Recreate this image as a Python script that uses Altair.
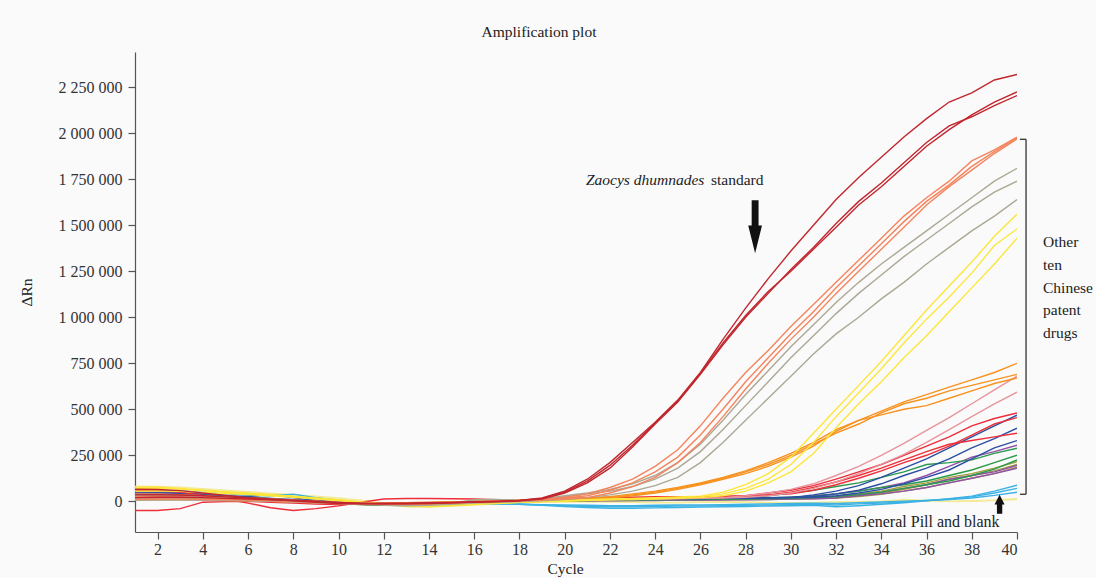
import altair as alt
import pandas as pd

cycles = list(range(1, 41))

# ΔRn readings, in thousands, cycles 1..40
std_a = [65, 64, 58, 45, 32, 20, 10, 2, -6, -12, -14, -12, -10, -8, -6, -4, -2, 4, 18, 55,
         120, 210, 320, 430, 550, 700, 880, 1050, 1210, 1360, 1500, 1640, 1760, 1870, 1980, 2080, 2170, 2220, 2290, 2320]
std_b = [35, 36, 34, 30, 24, 18, 12, 6, 0, -6, -10, -12, -12, -10, -8, -4, 0, 4, 15, 50,
         110, 195, 305, 425, 545, 695, 860, 1010, 1140, 1250, 1370, 1490, 1610, 1710, 1820, 1930, 2020, 2100, 2170, 2225]
std_c = [20, 22, 22, 20, 16, 12, 8, 4, -2, -8, -12, -14, -14, -12, -8, -4, -2, 2, 12, 45,
         100, 180, 295, 420, 540, 690, 850, 1000, 1130, 1260, 1380, 1510, 1630, 1730, 1840, 1950, 2040, 2090, 2150, 2205]

sal_a = [40, 40, 36, 30, 24, 18, 12, 6, 0, -6, -10, -12, -12, -10, -8, -4, 0, 4, 10, 22,
         40, 75, 120, 190, 280, 410, 560, 700, 820, 950, 1070, 1190, 1310, 1430, 1550, 1650, 1740, 1850, 1910, 1980]
sal_b = [25, 26, 24, 20, 16, 12, 8, 4, -2, -8, -12, -14, -14, -12, -8, -4, 0, 2, 8, 18,
         30, 60, 100, 160, 240, 360, 500, 650, 780, 910, 1030, 1160, 1280, 1400, 1520, 1630, 1720, 1820, 1900, 1975]
sal_c = [10, 12, 12, 10, 8, 6, 2, -2, -6, -10, -14, -16, -16, -14, -10, -6, -2, 2, 6, 12,
         20, 45, 80, 130, 210, 320, 460, 610, 750, 880, 1000, 1130, 1250, 1370, 1490, 1610, 1710, 1800, 1890, 1970]

gray_a = [30, 30, 28, 24, 20, 14, 8, 2, -4, -10, -14, -16, -16, -14, -10, -6, -2, 2, 14, 30,
          45, 65, 95, 140, 210, 310, 440, 580, 710, 840, 960, 1080, 1190, 1290, 1380, 1470, 1560, 1650, 1740, 1810]
gray_b = [15, 15, 14, 12, 10, 6, 2, -2, -6, -10, -14, -18, -20, -18, -12, 8, 10, 6, 10, 25,
          40, 55, 80, 120, 180, 270, 390, 520, 650, 780, 900, 1020, 1130, 1230, 1330, 1420, 1510, 1600, 1680, 1740]
gray_c = [5, 6, 6, 5, 4, 2, 0, -4, -8, -12, -16, -20, -24, -22, -16, -10, -6, -2, 2, 10,
          20, 35, 55, 85, 130, 210, 320, 440, 560, 680, 800, 910, 1000, 1100, 1190, 1290, 1380, 1470, 1550, 1640]

yel_a = [78, 76, 70, 60, 52, 44, 36, 28, 18, 8, -4, -14, -20, -20, -16, -12, -8, -4, 0, 4,
         8, 12, 16, 20, 24, 28, 50, 90, 150, 240, 370, 500, 630, 760, 900, 1040, 1170, 1300, 1440, 1560]
yel_b = [70, 70, 66, 58, 50, 42, 34, 26, 16, 6, -6, -16, -24, -26, -22, -16, -10, -6, -2, 2,
         6, 10, 14, 16, 20, 24, 40, 70, 120, 200, 320, 460, 590, 720, 860, 990, 1110, 1240, 1390, 1480]
yel_c = [55, 56, 54, 48, 42, 36, 30, 22, 12, 2, -8, -18, -26, -28, -24, -18, -12, -6, -2, 0,
         4, 8, 10, 12, 16, 20, 30, 55, 100, 160, 260, 400, 530, 650, 780, 900, 1030, 1160, 1290, 1430]

or_a = [20, 20, 18, 16, 12, 8, 4, 0, -4, -8, -10, -10, -8, -6, -4, 0, 4, 8, 10, 12,
        15, 25, 40, 55, 75, 100, 130, 165, 210, 260, 320, 390, 440, 490, 540, 580, 620, 660, 700, 750]
or_b = [12, 12, 12, 10, 8, 6, 2, -2, -6, -10, -12, -12, -10, -8, -4, -2, 2, 6, 8, 10,
        12, 20, 35, 50, 70, 95, 125, 160, 200, 250, 310, 370, 420, 480, 530, 560, 600, 630, 660, 690]
or_c = [8, 8, 8, 6, 4, 2, 0, -4, -8, -12, -14, -14, -12, -10, -6, -2, 2, 4, 6, 8,
        10, 18, 30, 45, 65, 90, 120, 150, 190, 240, 300, 380, 440, 470, 500, 520, 560, 600, 640, 670]

pink_a = [25, 26, 24, 20, 16, 12, 8, 4, 0, -6, -10, -12, -12, -10, -6, -2, 0, 2, 4, 6,
          8, 10, 12, 14, 16, 18, 20, 30, 45, 65, 95, 140, 190, 250, 315, 385, 455, 530, 605, 680]
pink_b = [18, 18, 18, 16, 14, 10, 6, 2, -2, -6, -10, -14, -14, -12, -8, -4, -2, 0, 2, 4,
          6, 8, 10, 12, 14, 16, 18, 22, 30, 45, 70, 105, 150, 200, 255, 320, 390, 460, 530, 593]

red_a = [60, 58, 50, 32, 12, -10, -35, -50, -40, -25, -5, 12, 15, 15, 14, 12, 8, 5, 10, 15,
         20, 22, 22, 25, 25, 25, 25, 30, 45, 60, 85, 120, 160, 200, 250, 300, 350, 410, 450, 480]
red_b = [-50, -50, -40, -5, -2, 0, -5, -10, -15, -18, -15, -10, -8, -6, -5, -3, 0, 2, 5, 8,
         10, 12, 14, 15, 15, 18, 20, 25, 35, 50, 75, 105, 140, 180, 225, 270, 310, 330, 350, 370]
red_c = [30, 30, 28, 24, 18, 12, 6, 0, -6, -12, -16, -18, -16, -14, -10, -6, -2, 0, 4, 8,
         12, 15, 18, 20, 22, 24, 26, 30, 35, 40, 60, 90, 125, 165, 210, 250, 300, 360, 420, 455]

blue_a = [45, 46, 42, 36, 28, 26, 36, 20, 4, -4, -10, -14, -16, -14, -10, -6, -2, 0, 2, 4,
          8, 20, 15, 12, 14, 16, 16, 18, 20, 20, 35, 55, 85, 130, 180, 230, 290, 350, 410, 468]
blue_b = [28, 28, 26, 22, 18, 14, 10, 6, 0, -6, -10, -14, -14, -12, -8, -4, 0, 2, 4, 6,
          8, 10, 12, 14, 16, 18, 20, 18, 20, 22, 25, 40, 60, 95, 140, 180, 230, 290, 340, 397]
blue_c = [15, 16, 16, 14, 12, 8, 4, 0, -4, -8, -12, -16, -16, -14, -10, -6, -2, 0, 2, 4,
          6, 8, 10, 12, 14, 14, 16, 16, 18, 20, 22, 30, 45, 65, 95, 130, 170, 230, 290, 330]

pur_a = [50, 50, 46, 40, 32, 24, 16, 8, 0, -8, -14, -16, -16, -14, -10, -6, -2, 0, 2, 4,
         6, 8, 10, 12, 12, 14, 14, 16, 18, 20, 30, 40, 55, 75, 100, 140, 190, 240, 270, 305]
pur_b = [35, 36, 34, 30, 24, 18, 12, 6, -2, -10, -16, -18, -18, -16, -12, -8, -4, -2, 0, 2,
         4, 6, 6, 8, 8, 10, 10, 12, 14, 16, 20, 25, 35, 50, 70, 90, 120, 140, 160, 195]
pur_c = [22, 22, 22, 20, 16, 12, 8, 2, -4, -10, -14, -16, -16, -14, -12, -8, -4, -2, 0, 0,
         2, 2, 4, 4, 6, 6, 8, 8, 10, 12, 14, 18, 30, 40, 55, 75, 100, 125, 150, 180]

grn_a = [40, 40, 38, 34, 28, 22, 14, 6, -2, -10, -16, -18, -18, -16, -12, -8, -4, 0, 2, 4,
         6, 8, 10, 12, 14, 16, 18, 20, 30, 45, 60, 80, 100, 130, 160, 200, 210, 225, 260, 288]
grn_b = [30, 30, 30, 28, 24, 18, 12, 4, -4, -12, -18, -20, -20, -18, -14, -10, -6, -2, 0, 2,
         4, 6, 8, 10, 12, 12, 14, 16, 18, 22, 28, 40, 55, 75, 90, 110, 140, 170, 210, 250]
grn_c = [22, 22, 22, 20, 18, 14, 10, 4, -2, -8, -14, -18, -18, -16, -12, -8, -4, 0, 2, 4,
         6, 6, 8, 8, 10, 10, 12, 12, 14, 16, 20, 26, 36, 50, 70, 90, 110, 140, 175, 225]

olv_a = [32, 32, 30, 26, 22, 16, 10, 4, -2, -8, -14, -18, -18, -16, -10, 2, 6, 4, 4, 6,
         8, 8, 10, 10, 12, 12, 14, 14, 16, 18, 20, 26, 40, 55, 80, 100, 130, 150, 180, 215]
olv_b = [24, 24, 24, 22, 18, 14, 8, 2, -4, -10, -16, -20, -22, -20, -14, -6, 0, 2, 2, 4,
         4, 6, 6, 8, 8, 10, 10, 12, 12, 14, 16, 20, 30, 45, 65, 90, 120, 140, 165, 200]
olv_c = [18, 18, 18, 16, 14, 10, 6, 0, -6, -12, -18, -22, -24, -22, -16, -10, -4, 0, 0, 2,
         2, 4, 4, 6, 6, 8, 8, 10, 10, 12, 14, 18, 26, 38, 55, 75, 100, 125, 150, 185]

lb_a = [60, 60, 56, 48, 40, 32, 30, 38, 20, 6, -6, -12, -14, -14, -12, -10, -12, -16, -22, -28,
        -34, -38, -38, -36, -34, -32, -30, -28, -26, -24, -22, -30, -24, -16, -8, 2, 14, 28, 55, 87]
lb_b = [40, 40, 38, 34, 28, 22, 16, 10, 4, -2, -8, -14, -16, -16, -14, -12, -14, -16, -20, -24,
        -28, -30, -30, -28, -26, -26, -24, -22, -20, -18, -16, -20, -14, -10, -4, 4, 12, 24, 45, 70]
lb_c = [25, 26, 24, 22, 18, 14, 10, 6, 0, -6, -12, -16, -18, -18, -16, -14, -14, -16, -18, -20,
        -22, -24, -24, -22, -20, -20, -18, -16, -14, -12, -10, -12, -8, -4, 0, 4, 10, 18, 32, 49]

py_a = [80, 80, 76, 68, 60, 52, 44, 36, 28, 18, 6, -10, -28, -30, -24, -18, -12, -6, -4, -2,
        0, -2, -4, -6, -6, -4, -2, -4, -6, -8, -6, -4, -2, 0, 10, 4, 0, 2, 6, 14]
py_b = [70, 70, 66, 60, 52, 44, 36, 28, 20, 10, -2, -14, -30, -32, -26, -20, -14, -8, -6, -4,
        -2, -4, -6, -8, -8, -6, -4, -6, -8, -10, -8, -6, -4, -2, 4, 2, -2, 0, 4, 10]

group_names = ["blank", "lightblue", "olive", "purple", "green", "blue", "red", "pink",
               "orange", "yellow", "gray", "salmon", "standard"]
group_colors = ["#f3ea96", "#3cb2e4", "#a3a03e", "#9250a8", "#2a9a4c", "#2c4fa3", "#ee2e3a",
                "#e8949c", "#f7921f", "#fde63a", "#aca895", "#f4845d", "#c1262e"]

series = [
    ("py_a", "blank", py_a), ("py_b", "blank", py_b),
    ("lb_a", "lightblue", lb_a), ("lb_b", "lightblue", lb_b), ("lb_c", "lightblue", lb_c),
    ("olv_a", "olive", olv_a), ("olv_b", "olive", olv_b), ("olv_c", "olive", olv_c),
    ("pur_a", "purple", pur_a), ("pur_b", "purple", pur_b), ("pur_c", "purple", pur_c),
    ("grn_a", "green", grn_a), ("grn_b", "green", grn_b), ("grn_c", "green", grn_c),
    ("blue_a", "blue", blue_a), ("blue_b", "blue", blue_b), ("blue_c", "blue", blue_c),
    ("red_a", "red", red_a), ("red_b", "red", red_b), ("red_c", "red", red_c),
    ("pink_a", "pink", pink_a), ("pink_b", "pink", pink_b),
    ("or_a", "orange", or_a), ("or_b", "orange", or_b), ("or_c", "orange", or_c),
    ("yel_a", "yellow", yel_a), ("yel_b", "yellow", yel_b), ("yel_c", "yellow", yel_c),
    ("gray_a", "gray", gray_a), ("gray_b", "gray", gray_b), ("gray_c", "gray", gray_c),
    ("sal_a", "salmon", sal_a), ("sal_b", "salmon", sal_b), ("sal_c", "salmon", sal_c),
    ("std_a", "standard", std_a), ("std_b", "standard", std_b), ("std_c", "standard", std_c),
]

rows = []
for order, (name, grp, vals) in enumerate(series):
    assert len(vals) == 40, name
    for c, v in zip(cycles, vals):
        rows.append({"cycle": c, "drn": v * 1000, "series": name, "group": grp, "o": order})
df = pd.DataFrame(rows)

FONT = "Liberation Serif"
XDOM = [1, 40]
YDOM = [-167000, 2442000]
xs = alt.Scale(domain=XDOM, nice=False, zero=False)
ys = alt.Scale(domain=YDOM, nice=False, zero=False)

lines = alt.Chart(df).mark_line(strokeWidth=1.4, clip=True).encode(
    x=alt.X("cycle:Q", scale=xs,
            axis=alt.Axis(values=list(range(2, 41, 2)), title="Cycle", titleX=430)),
    y=alt.Y("drn:Q", scale=ys,
            axis=alt.Axis(values=list(range(0, 2250001, 250000)), title="ΔRn",
                          labelExpr="replace(format(datum.value, ','), regexp(',', 'g'), ' ')")),
    color=alt.Color("group:N", scale=alt.Scale(domain=group_names, range=group_colors), legend=None),
    detail="series:N",
    order="o:Q",
)

# annotations
ann_it = pd.DataFrame({"cycle": [20.94], "drn": [1744700], "t": ["Zaocys dhumnades"]})
ann_rg = pd.DataFrame({"cycle": [26.47], "drn": [1744700], "t": ["standard"]})
ann_gp = pd.DataFrame({"cycle": [30.98], "drn": [-114100], "t": ["Green General Pill and blank"]})
ann_other = pd.DataFrame({"cycle": [41.15], "drn": [1407700],
                          "t": [["Other", "ten", "Chinese", "patent", "drugs"]]})

text_it = alt.Chart(ann_it).mark_text(align="left", baseline="middle", font=FONT, fontSize=15.5,
                                      fontStyle="italic", color="#222", clip=False).encode(
    x=alt.X("cycle:Q", scale=xs), y=alt.Y("drn:Q", scale=ys), text="t:N")
text_rg = alt.Chart(ann_rg).mark_text(align="left", baseline="middle", font=FONT, fontSize=15.5,
                                      color="#222", clip=False).encode(
    x=alt.X("cycle:Q", scale=xs), y=alt.Y("drn:Q", scale=ys), text="t:N")
text_gp = alt.Chart(ann_gp).mark_text(align="left", baseline="middle", font=FONT, fontSize=16,
                                      color="#222", clip=False).encode(
    x=alt.X("cycle:Q", scale=xs), y=alt.Y("drn:Q", scale=ys), text="t:N")
text_other = alt.Chart(ann_other).mark_text(align="left", baseline="middle", font=FONT, fontSize=15.5,
                                            lineHeight=22.7, color="#222", clip=False).encode(
    x=alt.X("cycle:Q", scale=xs), y=alt.Y("drn:Q", scale=ys), text="t")

arrow_dn = pd.DataFrame({"cycle": [28.42], "drn": [1492000]})
arrow_up = pd.DataFrame({"cycle": [39.23], "drn": [-16300]})
dn = alt.Chart(arrow_dn).mark_point(
    shape="M-0.13,-1L0.13,-1L0.13,-0.05L0.26,-0.05L0,1L-0.26,-0.05L-0.13,-0.05Z",
    size=2809, filled=True, opacity=1, color="#111", strokeWidth=0, clip=False).encode(
    x=alt.X("cycle:Q", scale=xs), y=alt.Y("drn:Q", scale=ys))
up = alt.Chart(arrow_up).mark_point(
    shape="M0,-1L0.53,0.03L0.28,0.03L0.28,1L-0.28,1L-0.28,0.03L-0.53,0.03Z",
    size=361, filled=True, opacity=1, color="#111", strokeWidth=0, clip=False).encode(
    x=alt.X("cycle:Q", scale=xs), y=alt.Y("drn:Q", scale=ys))

br_v = pd.DataFrame({"cycle": [40.40], "drn": [1967500], "drn2": [38000]})
br_h = pd.DataFrame({"cycle": [40.13, 40.13], "cycle2": [40.40, 40.40], "drn": [1967500, 38000]})
brv = alt.Chart(br_v).mark_rule(color="#333", strokeWidth=1.3, clip=False).encode(
    x=alt.X("cycle:Q", scale=xs), y=alt.Y("drn:Q", scale=ys), y2="drn2:Q")
brh = alt.Chart(br_h).mark_rule(color="#333", strokeWidth=1.3, clip=False).encode(
    x=alt.X("cycle:Q", scale=xs), x2="cycle2:Q", y=alt.Y("drn:Q", scale=ys))

chart = alt.layer(lines, brv, brh, dn, up, text_it, text_rg, text_gp, text_other).properties(
    width=882, height=480,
    title=alt.TitleParams("Amplification plot", font=FONT, fontSize=15.5, fontWeight="normal",
                          color="#222", offset=12, dx=-37),
    autosize=alt.AutoSizeParams(type="none"),
    padding={"left": 135, "top": 52, "right": 79, "bottom": 46},
    background="#fafafa",
).configure_view(stroke=None).configure_axis(
    grid=False, labelFont=FONT, labelFontSize=16, labelColor="#333",
    titleFont=FONT, titleFontSize=15.5, titleFontWeight="normal", titleColor="#222",
    domainColor="#555", tickColor="#555", tickSize=7, domainWidth=1.2, tickWidth=1.2,
).configure_axisX(labelPadding=2, titlePadding=4).configure_axisY(labelPadding=6, titlePadding=24)

chart.save("out.html", embed_options={"renderer": "svg", "actions": False})
